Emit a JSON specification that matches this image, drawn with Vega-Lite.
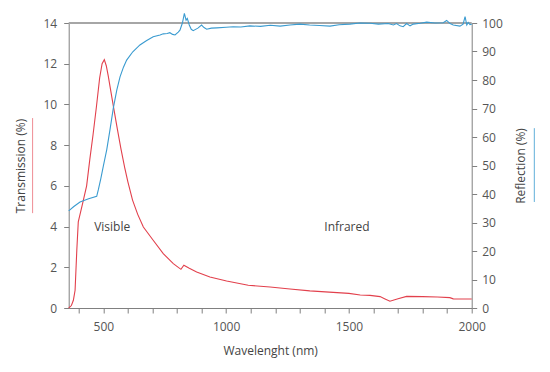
{
  "$schema": "https://vega.github.io/schema/vega-lite/v6.json",
  "autosize": {"type": "none"},
  "width": 403,
  "height": 285,
  "padding": {"left": 68.7, "top": 23, "right": 78.3, "bottom": 64},
  "background": "white",
  "config": {
    "view": {"stroke": null},
    "font": "Open Sans",
    "axis": {
      "labelFont": "Open Sans", "labelFontSize": 12, "labelColor": "#555555",
      "titleFont": "Open Sans", "titleFontSize": 12, "titleFontWeight": "normal", "titleColor": "#444444",
      "domainColor": "#808080", "tickColor": "#808080", "tickSize": 5, "grid": false
    }
  },
  "datasets": {
    "trans": [
      {"wavelength": 359, "value": 0}, {"wavelength": 370, "value": 0.12}, {"wavelength": 378, "value": 0.38},
      {"wavelength": 385, "value": 0.87}, {"wavelength": 392, "value": 2.84}, {"wavelength": 398, "value": 4.23},
      {"wavelength": 415, "value": 5.1}, {"wavelength": 432, "value": 6.0}, {"wavelength": 445, "value": 7.3},
      {"wavelength": 458, "value": 8.5}, {"wavelength": 472, "value": 9.9}, {"wavelength": 485, "value": 11.3},
      {"wavelength": 495, "value": 12.0}, {"wavelength": 504, "value": 12.2}, {"wavelength": 512, "value": 11.9},
      {"wavelength": 520, "value": 11.4}, {"wavelength": 527, "value": 10.9}, {"wavelength": 541, "value": 9.9},
      {"wavelength": 557, "value": 8.8}, {"wavelength": 572, "value": 7.8}, {"wavelength": 587, "value": 6.9},
      {"wavelength": 600, "value": 6.2}, {"wavelength": 619, "value": 5.3}, {"wavelength": 640, "value": 4.6},
      {"wavelength": 663, "value": 3.98}, {"wavelength": 703, "value": 3.33}, {"wavelength": 744, "value": 2.67},
      {"wavelength": 785, "value": 2.18}, {"wavelength": 816, "value": 1.9}, {"wavelength": 828, "value": 2.1},
      {"wavelength": 850, "value": 1.95}, {"wavelength": 880, "value": 1.77}, {"wavelength": 934, "value": 1.52},
      {"wavelength": 1002, "value": 1.33}, {"wavelength": 1090, "value": 1.12}, {"wavelength": 1179, "value": 1.03},
      {"wavelength": 1260, "value": 0.93}, {"wavelength": 1341, "value": 0.84}, {"wavelength": 1420, "value": 0.78},
      {"wavelength": 1500, "value": 0.72}, {"wavelength": 1546, "value": 0.64}, {"wavelength": 1586, "value": 0.62},
      {"wavelength": 1627, "value": 0.56}, {"wavelength": 1645, "value": 0.46}, {"wavelength": 1667, "value": 0.33},
      {"wavelength": 1700, "value": 0.45}, {"wavelength": 1735, "value": 0.57}, {"wavelength": 1800, "value": 0.56},
      {"wavelength": 1860, "value": 0.54}, {"wavelength": 1911, "value": 0.51}, {"wavelength": 1925, "value": 0.45},
      {"wavelength": 2000, "value": 0.44}
    ],
    "refl": [
      {"wavelength": 359, "value": 34.1}, {"wavelength": 380, "value": 35.6}, {"wavelength": 405, "value": 37.2},
      {"wavelength": 440, "value": 38.3}, {"wavelength": 473, "value": 39.2}, {"wavelength": 480, "value": 41.6},
      {"wavelength": 490, "value": 45.5}, {"wavelength": 500, "value": 49.8}, {"wavelength": 514, "value": 55.6},
      {"wavelength": 527, "value": 62.5}, {"wavelength": 541, "value": 70.3},
      {"wavelength": 555, "value": 76.5}, {"wavelength": 568, "value": 81.1}, {"wavelength": 582, "value": 84.5},
      {"wavelength": 595, "value": 87.0}, {"wavelength": 620, "value": 89.9}, {"wavelength": 649, "value": 92.3},
      {"wavelength": 675, "value": 93.8}, {"wavelength": 703, "value": 95.2}, {"wavelength": 731, "value": 95.8},
      {"wavelength": 744, "value": 96.2}, {"wavelength": 760, "value": 96.3}, {"wavelength": 771, "value": 96.6},
      {"wavelength": 782, "value": 96.0}, {"wavelength": 792, "value": 95.8}, {"wavelength": 805, "value": 96.8},
      {"wavelength": 812, "value": 97.5}, {"wavelength": 822, "value": 100}, {"wavelength": 830, "value": 103.4},
      {"wavelength": 837, "value": 101}, {"wavelength": 842, "value": 101.6}, {"wavelength": 850, "value": 99.3},
      {"wavelength": 858, "value": 97.8}, {"wavelength": 866, "value": 97.3}, {"wavelength": 885, "value": 98.2},
      {"wavelength": 900, "value": 99.3}, {"wavelength": 910, "value": 98.4}, {"wavelength": 921, "value": 97.8},
      {"wavelength": 940, "value": 98.2}, {"wavelength": 962, "value": 98.3}, {"wavelength": 1000, "value": 98.5},
      {"wavelength": 1029, "value": 98.7}, {"wavelength": 1060, "value": 98.6}, {"wavelength": 1097, "value": 99.0},
      {"wavelength": 1140, "value": 98.8}, {"wavelength": 1180, "value": 99.2}, {"wavelength": 1220, "value": 98.9},
      {"wavelength": 1260, "value": 99.3}, {"wavelength": 1300, "value": 99.6}, {"wavelength": 1340, "value": 99.3},
      {"wavelength": 1380, "value": 99.1}, {"wavelength": 1423, "value": 98.9}, {"wavelength": 1460, "value": 99.4},
      {"wavelength": 1504, "value": 99.6}, {"wavelength": 1545, "value": 100.0}, {"wavelength": 1586, "value": 99.9},
      {"wavelength": 1620, "value": 99.6}, {"wavelength": 1660, "value": 99.8}, {"wavelength": 1681, "value": 99.3},
      {"wavelength": 1694, "value": 99.8}, {"wavelength": 1708, "value": 99.0}, {"wavelength": 1721, "value": 98.7},
      {"wavelength": 1735, "value": 99.8}, {"wavelength": 1749, "value": 99.0}, {"wavelength": 1762, "value": 99.6},
      {"wavelength": 1790, "value": 99.9}, {"wavelength": 1817, "value": 100.3}, {"wavelength": 1850, "value": 100.0},
      {"wavelength": 1884, "value": 100.1}, {"wavelength": 1898, "value": 100.9}, {"wavelength": 1912, "value": 99.8},
      {"wavelength": 1925, "value": 99.3}, {"wavelength": 1952, "value": 98.9}, {"wavelength": 1965, "value": 99.6},
      {"wavelength": 1973, "value": 102.2}, {"wavelength": 1980, "value": 99.3}, {"wavelength": 1986, "value": 100.2},
      {"wavelength": 1993, "value": 99.4}, {"wavelength": 2000, "value": 99.6}
    ],
    "labels": [
      {"wavelength": 536, "value": 3.97, "text": "Visible"},
      {"wavelength": 1492, "value": 3.97, "text": "Infrared"}
    ],
    "transKey": [{"wavelength": 212, "value": 4.66, "value2": 9.33}],
    "reflKey": [{"wavelength": 2255, "value": 37.2, "value2": 63.1}]
  },
  "encoding": {
    "x": {
      "field": "wavelength", "type": "quantitative",
      "scale": {"domain": [359, 2000], "nice": false, "zero": false},
      "axis": {
        "title": "Wavelenght (nm)",
        "values": [400, 500, 600, 700, 800, 900, 1000, 1100, 1200, 1300, 1400, 1500, 1600, 1700, 1800, 1900, 2000],
        "labelExpr": "datum.value % 500 === 0 ? format(datum.value, 'd') : ''",
        "labelPadding": 8, "titlePadding": 13, "labelFlush": false
      }
    }
  },
  "layer": [
    {
      "layer": [
        {
          "data": {"name": "trans"},
          "mark": {"type": "line", "color": "#e2404c", "strokeWidth": 1.1},
          "encoding": {
            "y": {
              "field": "value", "type": "quantitative",
              "scale": {"domain": [0, 14], "nice": false},
              "axis": {"title": "Transmission (%)", "values": [0, 2, 4, 6, 8, 10, 12, 14], "orient": "left", "labelPadding": 7, "titlePadding": 15.5}
            }
          }
        },
        {
          "data": {"name": "labels"},
          "mark": {"type": "text", "font": "Open Sans", "fontSize": 12, "color": "#444444"},
          "encoding": {
            "y": {"field": "value", "type": "quantitative", "scale": {"domain": [0, 14], "nice": false}, "axis": {"title": "Transmission (%)", "values": [0, 2, 4, 6, 8, 10, 12, 14], "orient": "left", "labelPadding": 7, "titlePadding": 15.5}},
            "text": {"field": "text"}
          }
        },
        {
          "data": {"name": "transKey"},
          "mark": {"type": "rule", "color": "#e2404c", "strokeWidth": 1, "opacity": 0.6},
          "encoding": {
            "y": {"field": "value", "type": "quantitative", "scale": {"domain": [0, 14], "nice": false}, "axis": {"title": "Transmission (%)", "values": [0, 2, 4, 6, 8, 10, 12, 14], "orient": "left", "labelPadding": 7, "titlePadding": 15.5}},
            "y2": {"field": "value2"}
          }
        },
        {
          "data": {"values": [{"wavelength": 359, "value": 14}, {"wavelength": 2000, "value": 14}]},
          "mark": {"type": "line", "color": "#a6a6a6", "strokeWidth": 2},
          "encoding": {
            "y": {"field": "value", "type": "quantitative", "scale": {"domain": [0, 14], "nice": false}, "axis": {"title": "Transmission (%)", "values": [0, 2, 4, 6, 8, 10, 12, 14], "orient": "left", "labelPadding": 7, "titlePadding": 15.5}}
          }
        }
      ]
    },
    {
      "layer": [
        {
          "data": {"name": "refl"},
          "mark": {"type": "line", "color": "#3a9bd0", "strokeWidth": 1.1},
          "encoding": {
            "y": {
              "field": "value", "type": "quantitative",
              "scale": {"domain": [0, 100], "nice": false},
              "axis": {"title": "Reflection (%)", "values": [0, 10, 20, 30, 40, 50, 60, 70, 80, 90, 100], "orient": "right", "labelPadding": 5, "titlePadding": 25, "titleAngle": 270}
            }
          }
        },
        {
          "data": {"name": "reflKey"},
          "mark": {"type": "rule", "color": "#3a9bd0", "strokeWidth": 1, "opacity": 0.8},
          "encoding": {
            "y": {"field": "value", "type": "quantitative", "scale": {"domain": [0, 100], "nice": false}, "axis": {"title": "Reflection (%)", "values": [0, 10, 20, 30, 40, 50, 60, 70, 80, 90, 100], "orient": "right", "labelPadding": 5, "titlePadding": 25, "titleAngle": 270}},
            "y2": {"field": "value2"}
          }
        }
      ]
    }
  ],
  "resolve": {"scale": {"y": "independent"}, "axis": {"y": "independent"}}
}
